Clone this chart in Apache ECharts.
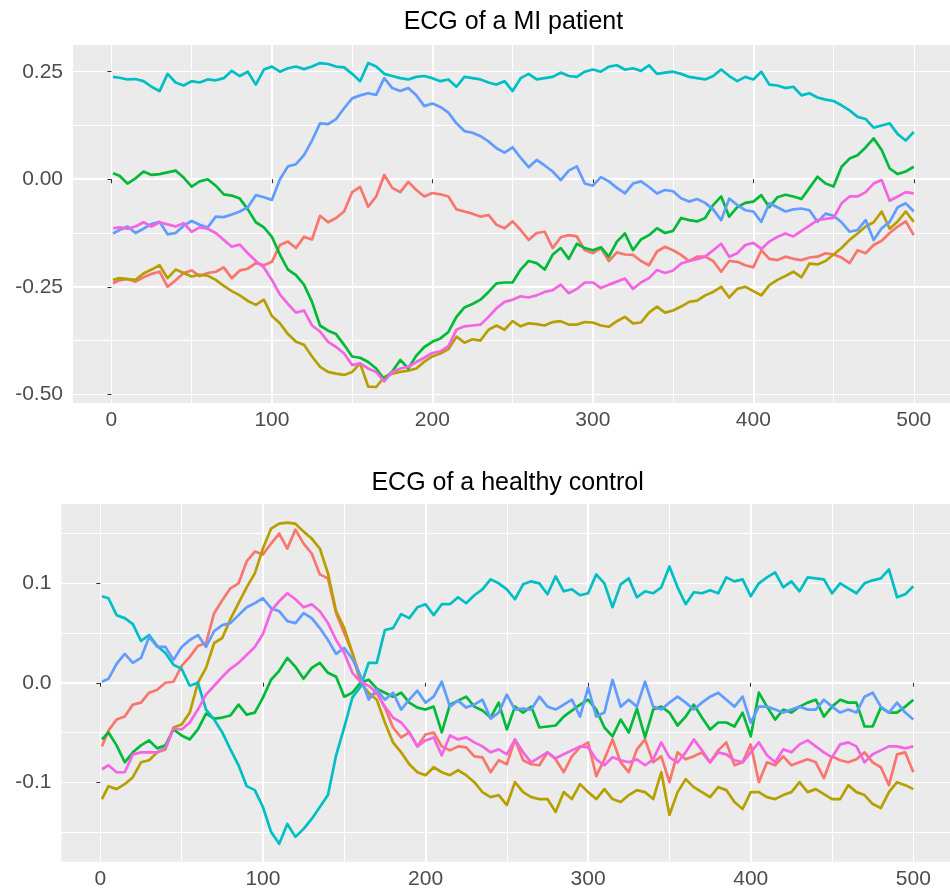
<!DOCTYPE html>
<html>
<head>
<meta charset="utf-8">
<title>ECG leads</title>
<script src="https://cdn.jsdelivr.net/npm/echarts@6/dist/echarts.min.js"></script>
<style>
  html, body { margin: 0; padding: 0; background: #ffffff; }
  #chart { width: 950px; height: 891px; }
</style>
</head>
<body>
<div id="chart"></div>
<script>
// Sample index (time step) of every stored reading
const sampleIdx = [
  1, 5, 10, 15, 20, 25, 30, 35, 40, 45,
  50, 55, 60, 65, 70, 75, 80, 85, 90, 95,
  100, 105, 110, 115, 120, 125, 130, 135, 140, 145,
  150, 155, 160, 165, 170, 175, 180, 185, 190, 195,
  200, 205, 210, 215, 220, 225, 230, 235, 240, 245,
  250, 255, 260, 265, 270, 275, 280, 285, 290, 295,
  300, 305, 310, 315, 320, 325, 330, 335, 340, 345,
  350, 355, 360, 365, 370, 375, 380, 385, 390, 395,
  400, 405, 410, 415, 420, 425, 430, 435, 440, 445,
  450, 455, 460, 465, 470, 475, 480, 485, 490, 495,
  500
];

// Lead colours (default hue palette, six leads)
const leadColors = ['#F8766D', '#B79F00', '#00BA38', '#00BFC4', '#619CFF', '#F564E3'];

// ---- MI patient ----
const miLead1 = [
  -0.242,-0.235,-0.232,-0.238,-0.228,-0.22,-0.215,-0.25,-0.235,-0.218,
  -0.212,-0.225,-0.218,-0.215,-0.205,-0.23,-0.212,-0.208,-0.195,-0.2,
  -0.192,-0.153,-0.145,-0.16,-0.134,-0.14,-0.085,-0.1,-0.09,-0.075,
  -0.03,-0.018,-0.064,-0.04,0.01,-0.02,-0.03,-0.006,-0.025,-0.04,
  -0.032,-0.035,-0.04,-0.07,-0.075,-0.08,-0.087,-0.083,-0.106,-0.114,
  -0.098,-0.118,-0.141,-0.125,-0.122,-0.16,-0.135,-0.13,-0.133,-0.165,
  -0.172,-0.16,-0.19,-0.17,-0.175,-0.176,-0.19,-0.2,-0.168,-0.157,
  -0.165,-0.176,-0.19,-0.18,-0.18,-0.19,-0.215,-0.19,-0.192,-0.2,
  -0.205,-0.165,-0.185,-0.188,-0.18,-0.185,-0.188,-0.182,-0.18,-0.172,
  -0.175,-0.182,-0.195,-0.165,-0.172,-0.153,-0.143,-0.125,-0.11,-0.098,
  -0.13
];
const miLead2 = [
  -0.234,-0.23,-0.232,-0.234,-0.219,-0.21,-0.2,-0.23,-0.21,-0.218,
  -0.226,-0.222,-0.224,-0.234,-0.248,-0.26,-0.27,-0.283,-0.292,-0.28,
  -0.318,-0.335,-0.36,-0.378,-0.385,-0.412,-0.436,-0.448,-0.452,-0.455,
  -0.448,-0.428,-0.482,-0.483,-0.46,-0.452,-0.448,-0.445,-0.44,-0.424,
  -0.412,-0.405,-0.395,-0.366,-0.38,-0.372,-0.375,-0.35,-0.34,-0.35,
  -0.33,-0.342,-0.335,-0.337,-0.34,-0.332,-0.33,-0.338,-0.338,-0.332,
  -0.333,-0.34,-0.343,-0.33,-0.32,-0.335,-0.333,-0.31,-0.296,-0.31,
  -0.305,-0.296,-0.285,-0.282,-0.27,-0.262,-0.25,-0.275,-0.255,-0.25,
  -0.26,-0.27,-0.246,-0.234,-0.225,-0.215,-0.228,-0.196,-0.198,-0.19,
  -0.175,-0.16,-0.141,-0.126,-0.11,-0.1,-0.075,-0.115,-0.098,-0.075,
  -0.099
];
const miLead3 = [
  0.014,0.008,-0.01,0.002,0.018,0.01,0.012,0.016,0.02,0.004,
  -0.017,-0.005,0.0,-0.015,-0.035,-0.038,-0.045,-0.07,-0.1,-0.112,
  -0.134,-0.175,-0.21,-0.223,-0.245,-0.285,-0.34,-0.352,-0.36,-0.385,
  -0.412,-0.415,-0.425,-0.44,-0.465,-0.447,-0.42,-0.44,-0.41,-0.39,
  -0.378,-0.37,-0.355,-0.32,-0.298,-0.29,-0.28,-0.262,-0.242,-0.24,
  -0.24,-0.21,-0.19,-0.195,-0.21,-0.175,-0.16,-0.185,-0.15,-0.16,
  -0.165,-0.158,-0.18,-0.145,-0.126,-0.165,-0.14,-0.13,-0.114,-0.125,
  -0.12,-0.09,-0.095,-0.098,-0.09,-0.06,-0.04,-0.087,-0.065,-0.055,
  -0.052,-0.037,-0.065,-0.042,-0.036,-0.04,-0.046,-0.02,0.006,-0.01,
  -0.017,0.029,0.048,0.056,0.074,0.095,0.068,0.025,0.012,0.018,
  0.029
];
const miLead4 = [
  0.238,0.236,0.232,0.233,0.228,0.215,0.205,0.245,0.225,0.218,
  0.228,0.225,0.232,0.23,0.235,0.252,0.24,0.25,0.22,0.255,
  0.262,0.25,0.258,0.262,0.256,0.262,0.27,0.268,0.262,0.26,
  0.245,0.228,0.27,0.262,0.245,0.24,0.235,0.232,0.238,0.24,
  0.235,0.228,0.232,0.215,0.238,0.235,0.232,0.225,0.22,0.228,
  0.205,0.235,0.245,0.232,0.235,0.238,0.248,0.24,0.238,0.25,
  0.255,0.25,0.262,0.265,0.255,0.258,0.252,0.265,0.245,0.248,
  0.25,0.245,0.238,0.235,0.232,0.24,0.255,0.24,0.228,0.238,
  0.232,0.25,0.22,0.218,0.212,0.215,0.195,0.2,0.19,0.185,
  0.182,0.172,0.16,0.145,0.14,0.12,0.125,0.13,0.105,0.09,
  0.11
];
const miLead5 = [
  -0.126,-0.118,-0.11,-0.125,-0.115,-0.104,-0.099,-0.128,-0.125,-0.108,
  -0.097,-0.106,-0.112,-0.087,-0.088,-0.082,-0.075,-0.065,-0.037,-0.042,
  -0.048,0.0,0.03,0.035,0.056,0.09,0.13,0.128,0.14,0.165,
  0.188,0.195,0.2,0.196,0.235,0.212,0.205,0.212,0.195,0.17,
  0.176,0.168,0.155,0.13,0.112,0.108,0.1,0.088,0.072,0.062,
  0.074,0.05,0.028,0.045,0.032,0.018,-0.002,0.02,0.03,-0.01,
  -0.015,0.005,-0.005,-0.02,-0.033,-0.01,-0.005,-0.018,-0.033,-0.025,
  -0.028,-0.044,-0.052,-0.046,-0.055,-0.07,-0.095,-0.045,-0.06,-0.072,
  -0.075,-0.099,-0.056,-0.065,-0.075,-0.07,-0.068,-0.072,-0.099,-0.08,
  -0.085,-0.1,-0.122,-0.118,-0.095,-0.141,-0.114,-0.099,-0.065,-0.056,
  -0.075
];
const miLead6 = [
  -0.114,-0.112,-0.115,-0.11,-0.1,-0.11,-0.1,-0.105,-0.11,-0.102,
  -0.122,-0.112,-0.115,-0.125,-0.141,-0.157,-0.152,-0.172,-0.19,-0.205,
  -0.234,-0.268,-0.29,-0.31,-0.305,-0.34,-0.354,-0.378,-0.39,-0.405,
  -0.432,-0.428,-0.44,-0.448,-0.47,-0.448,-0.44,-0.436,-0.425,-0.415,
  -0.404,-0.4,-0.388,-0.35,-0.342,-0.34,-0.338,-0.32,-0.3,-0.285,
  -0.28,-0.272,-0.275,-0.27,-0.262,-0.258,-0.245,-0.265,-0.255,-0.24,
  -0.24,-0.253,-0.245,-0.238,-0.231,-0.255,-0.24,-0.23,-0.211,-0.218,
  -0.212,-0.196,-0.19,-0.186,-0.18,-0.165,-0.15,-0.18,-0.172,-0.153,
  -0.148,-0.162,-0.145,-0.134,-0.126,-0.133,-0.12,-0.108,-0.095,-0.092,
  -0.09,-0.056,-0.04,-0.04,-0.03,-0.01,-0.002,-0.05,-0.04,-0.03,
  -0.033
];

// ---- healthy control ----
const hcLead1 = [
  -0.064,-0.048,-0.037,-0.034,-0.022,-0.02,-0.01,-0.007,0.0,0.001,
  0.017,0.026,0.037,0.04,0.07,0.083,0.095,0.1,0.122,0.132,
  0.129,0.14,0.15,0.135,0.154,0.14,0.13,0.109,0.105,0.07,
  0.05,0.03,0.005,-0.015,-0.01,-0.025,-0.045,-0.055,-0.05,-0.064,
  -0.052,-0.05,-0.064,-0.068,-0.064,-0.065,-0.074,-0.075,-0.09,-0.078,
  -0.082,-0.057,-0.078,-0.082,-0.083,-0.07,-0.077,-0.09,-0.074,-0.065,
  -0.06,-0.094,-0.077,-0.057,-0.08,-0.09,-0.067,-0.057,-0.08,-0.074,
  -0.1,-0.07,-0.077,-0.074,-0.07,-0.08,-0.068,-0.06,-0.083,-0.08,
  -0.062,-0.1,-0.08,-0.083,-0.074,-0.083,-0.08,-0.077,-0.08,-0.096,
  -0.074,-0.078,-0.08,-0.077,-0.07,-0.08,-0.085,-0.103,-0.072,-0.07,
  -0.09
];
const hcLead2 = [
  -0.117,-0.104,-0.107,-0.102,-0.095,-0.08,-0.078,-0.07,-0.067,-0.045,
  -0.042,-0.03,0.0,0.015,0.04,0.045,0.064,0.08,0.096,0.11,
  0.135,0.155,0.16,0.161,0.16,0.152,0.145,0.135,0.11,0.072,
  0.055,0.03,0.0,-0.01,-0.017,-0.04,-0.06,-0.07,-0.082,-0.09,
  -0.093,-0.085,-0.09,-0.093,-0.088,-0.093,-0.1,-0.11,-0.115,-0.113,
  -0.123,-0.1,-0.11,-0.115,-0.117,-0.117,-0.13,-0.11,-0.117,-0.102,
  -0.11,-0.117,-0.107,-0.117,-0.12,-0.113,-0.108,-0.11,-0.117,-0.09,
  -0.133,-0.11,-0.097,-0.105,-0.11,-0.115,-0.105,-0.108,-0.12,-0.127,
  -0.11,-0.11,-0.115,-0.117,-0.113,-0.11,-0.1,-0.11,-0.107,-0.112,
  -0.117,-0.117,-0.103,-0.11,-0.113,-0.122,-0.126,-0.11,-0.1,-0.103,
  -0.107
];
const hcLead3 = [
  -0.057,-0.05,-0.063,-0.08,-0.07,-0.063,-0.058,-0.066,-0.063,-0.047,
  -0.053,-0.057,-0.047,-0.031,-0.036,-0.035,-0.033,-0.022,-0.032,-0.03,
  -0.015,0.003,0.012,0.025,0.016,0.004,0.015,0.02,0.01,0.006,
  -0.014,-0.01,0.0,0.003,-0.006,-0.01,-0.014,-0.01,-0.02,-0.025,
  -0.027,-0.024,-0.05,-0.022,-0.018,-0.014,-0.024,-0.028,-0.035,-0.02,
  -0.047,-0.024,-0.03,-0.024,-0.045,-0.044,-0.043,-0.034,-0.028,-0.022,
  -0.017,-0.027,-0.045,-0.054,-0.037,-0.05,-0.026,-0.055,-0.027,-0.024,
  -0.03,-0.043,-0.034,-0.022,-0.035,-0.047,-0.04,-0.04,-0.044,-0.03,
  -0.054,-0.01,-0.024,-0.037,-0.027,-0.03,-0.024,-0.02,-0.017,-0.034,
  -0.024,-0.017,-0.02,-0.02,-0.044,-0.044,-0.025,-0.03,-0.03,-0.024,
  -0.017
];
const hcLead4 = [
  0.087,0.085,0.068,0.065,0.059,0.042,0.048,0.037,0.03,0.018,
  0.014,-0.003,0.0,-0.027,-0.037,-0.05,-0.067,-0.083,-0.104,-0.108,
  -0.125,-0.15,-0.162,-0.142,-0.155,-0.147,-0.137,-0.125,-0.113,-0.073,
  -0.045,-0.015,-0.004,0.02,0.02,0.053,0.055,0.069,0.065,0.076,
  0.079,0.068,0.079,0.079,0.086,0.08,0.088,0.094,0.104,0.1,
  0.094,0.084,0.099,0.102,0.1,0.089,0.107,0.092,0.094,0.088,
  0.09,0.109,0.1,0.076,0.099,0.105,0.086,0.092,0.09,0.096,
  0.117,0.096,0.079,0.091,0.09,0.093,0.09,0.106,0.102,0.104,
  0.087,0.1,0.106,0.111,0.096,0.102,0.092,0.106,0.105,0.104,
  0.09,0.1,0.095,0.09,0.1,0.103,0.105,0.114,0.086,0.089,
  0.097
];
const hcLead5 = [
  0.001,0.004,0.019,0.029,0.02,0.025,0.046,0.036,0.036,0.023,
  0.036,0.043,0.048,0.036,0.052,0.058,0.06,0.068,0.076,0.08,
  0.085,0.075,0.072,0.062,0.06,0.07,0.065,0.055,0.043,0.029,
  0.035,0.024,0.007,-0.017,-0.007,-0.017,-0.01,-0.027,-0.017,-0.008,
  -0.02,-0.014,0.001,-0.024,-0.018,-0.025,-0.022,-0.017,-0.036,-0.03,
  -0.012,-0.027,-0.026,-0.027,-0.014,-0.024,-0.027,-0.022,-0.017,-0.034,
  -0.005,-0.034,-0.03,0.003,-0.024,-0.017,-0.024,0.001,-0.024,-0.027,
  -0.02,-0.014,-0.02,-0.027,-0.02,-0.014,-0.01,-0.017,-0.024,-0.014,
  -0.04,-0.024,-0.024,-0.027,-0.03,-0.027,-0.024,-0.027,-0.027,-0.017,
  -0.024,-0.03,-0.027,-0.03,-0.014,-0.01,-0.024,-0.03,-0.02,-0.03,
  -0.037
];
const hcLead6 = [
  -0.087,-0.083,-0.09,-0.09,-0.072,-0.07,-0.07,-0.07,-0.066,-0.046,
  -0.047,-0.04,-0.027,-0.012,-0.003,0.006,0.014,0.02,0.028,0.036,
  0.049,0.072,0.082,0.09,0.084,0.076,0.079,0.072,0.06,0.043,
  0.03,0.01,0.001,-0.003,-0.01,-0.024,-0.035,-0.04,-0.05,-0.064,
  -0.058,-0.055,-0.073,-0.053,-0.057,-0.055,-0.06,-0.064,-0.07,-0.067,
  -0.072,-0.057,-0.07,-0.08,-0.075,-0.07,-0.076,-0.072,-0.068,-0.064,
  -0.065,-0.077,-0.083,-0.075,-0.078,-0.08,-0.077,-0.083,-0.077,-0.06,
  -0.075,-0.08,-0.07,-0.057,-0.068,-0.08,-0.07,-0.072,-0.078,-0.08,
  -0.07,-0.06,-0.073,-0.08,-0.067,-0.07,-0.062,-0.058,-0.064,-0.07,
  -0.075,-0.062,-0.06,-0.064,-0.08,-0.072,-0.068,-0.064,-0.064,-0.066,
  -0.064
];

// Tick values
const xTicks = [0, 100, 200, 300, 400, 500];
const miYTicks = [-0.5, -0.25, 0, 0.25];
const hcYTicks = [-0.1, 0, 0.1];

const miLeads = [miLead1, miLead2, miLead3, miLead4, miLead5, miLead6];
const hcLeads = [hcLead1, hcLead2, hcLead3, hcLead4, hcLead5, hcLead6];

const FONT = '"Liberation Sans", Arial, Helvetica, sans-serif';
const TICK_COLOR = '#333333';
const LABEL_COLOR = '#4D4D4D';
const PANEL_BG = '#EBEBEB';

// Axis ranges padded by 5% of the data span on each side
const xRange = [-23.95, 524.95];
const miYRange = [-0.5202, 0.3121];
const hcYRange = [-0.18, 0.1798];

function majorX(gridIndex) {
  return {
    type: 'value', gridIndex, min: xRange[0], max: xRange[1],
    minInterval: 100, maxInterval: 100,
    axisLine: { show: false },
    axisTick: { show: true, customValues: xTicks, length: 4, lineStyle: { color: TICK_COLOR, width: 1 } },
    axisLabel: {
      show: true, customValues: xTicks, margin: 7, color: LABEL_COLOR, fontSize: 21, fontFamily: FONT,
      showMinLabel: true, showMaxLabel: true,
      formatter: v => String(Math.round(v))
    },
    splitLine: { show: true, showMinLine: false, showMaxLine: false, lineStyle: { color: '#ffffff', width: 2 } }
  };
}
function minorX(gridIndex) {
  return {
    type: 'value', gridIndex, min: xRange[0], max: xRange[1],
    minInterval: 50, maxInterval: 50,
    axisLine: { show: false }, axisTick: { show: false }, axisLabel: { show: false },
    splitLine: { show: true, showMinLine: false, showMaxLine: false, lineStyle: { color: '#ffffff', width: 1 } }
  };
}
function majorY(gridIndex, range, step, ticks, digits) {
  return {
    type: 'value', gridIndex, min: range[0], max: range[1],
    minInterval: step, maxInterval: step, position: 'left',
    axisLine: { show: false },
    axisTick: { show: true, customValues: ticks, length: 4, lineStyle: { color: TICK_COLOR, width: 1 } },
    axisLabel: {
      show: true, customValues: ticks, margin: 10, color: LABEL_COLOR, fontSize: 21, fontFamily: FONT,
      formatter: v => v.toFixed(digits)
    },
    splitLine: { show: true, showMinLine: false, showMaxLine: false, lineStyle: { color: '#ffffff', width: 2 } }
  };
}
function minorY(gridIndex, range, step) {
  return {
    type: 'value', gridIndex, min: range[0], max: range[1],
    minInterval: step, maxInterval: step, position: 'left',
    axisLine: { show: false }, axisTick: { show: false }, axisLabel: { show: false },
    splitLine: { show: true, showMinLine: false, showMaxLine: false, lineStyle: { color: '#ffffff', width: 1 } }
  };
}

function leadSeries(values, colorIdx, xIdx, yIdx) {
  return {
    type: 'line', xAxisIndex: xIdx, yAxisIndex: yIdx,
    data: sampleIdx.map((t, i) => [t, values[i]]),
    showSymbol: false, symbol: 'none', smooth: false,
    lineStyle: { color: leadColors[colorIdx], width: 2.7, join: 'round' },
    itemStyle: { color: leadColors[colorIdx] },
    z: 3 + colorIdx, silent: true
  };
}

const chart = echarts.init(document.getElementById('chart'), null, { renderer: 'canvas' });

chart.setOption({
  animation: false,
  backgroundColor: '#ffffff',
  grid: [
    { left: 73, top: 45, width: 880.8, height: 358, show: true, backgroundColor: PANEL_BG, borderWidth: 0, containLabel: false, outerBoundsMode: 'none' },
    { left: 61.4, top: 504, width: 892.5, height: 357.7, show: true, backgroundColor: PANEL_BG, borderWidth: 0, containLabel: false, outerBoundsMode: 'none' }
  ],
  xAxis: [majorX(0), minorX(0), majorX(1), minorX(1)],
  yAxis: [
    majorY(0, miYRange, 0.25, miYTicks, 2), minorY(0, miYRange, 0.125),
    majorY(1, hcYRange, 0.1, hcYTicks, 1), minorY(1, hcYRange, 0.05)
  ],
  series: [
    ...miLeads.map((vals, k) => leadSeries(vals, k, 0, 0)),
    ...hcLeads.map((vals, k) => leadSeries(vals, k, 2, 2))
  ],
  graphic: [
    { type: 'text', x: 513.4, y: 22, silent: true,
      style: { text: 'ECG of a MI patient', fill: '#000000', fontSize: 25, fontFamily: FONT, align: 'center', verticalAlign: 'middle' } },
    { type: 'text', x: 507.6, y: 483, silent: true,
      style: { text: 'ECG of a healthy control', fill: '#000000', fontSize: 25, fontFamily: FONT, align: 'center', verticalAlign: 'middle' } }
  ]
});
</script>
</body>
</html>
